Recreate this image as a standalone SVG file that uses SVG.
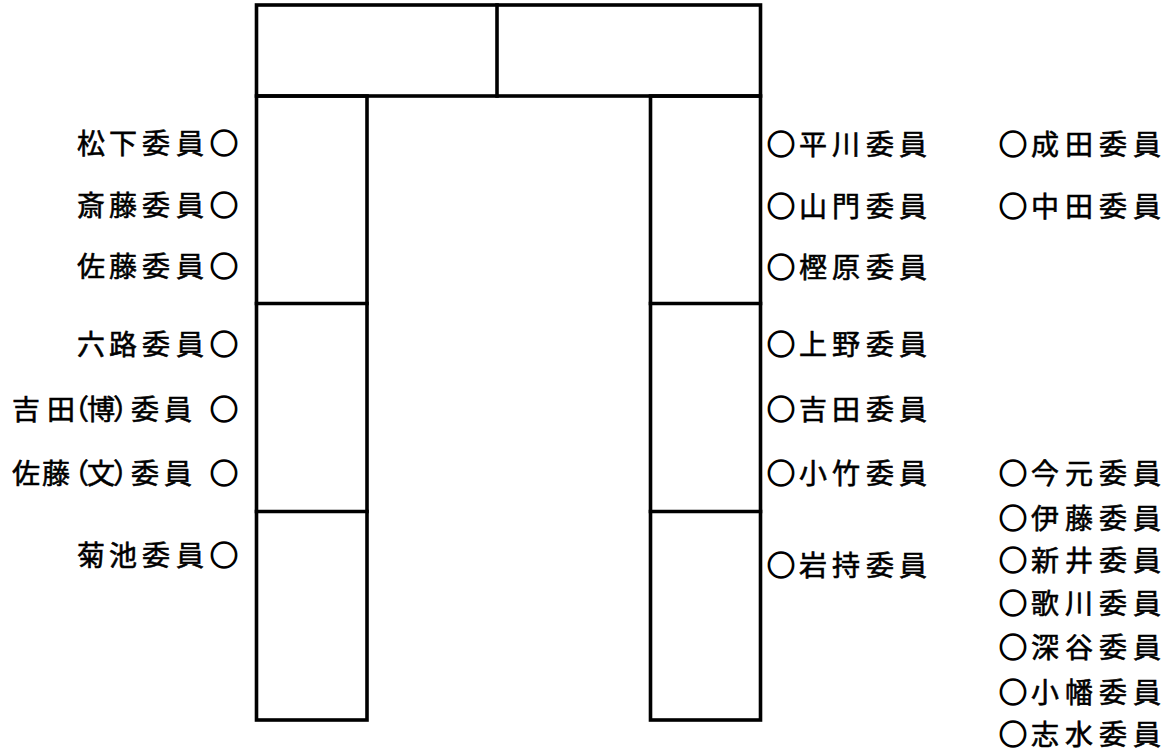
<svg xmlns="http://www.w3.org/2000/svg" width="1166" height="751" viewBox="0 0 1166 751">
<style>
.ln{fill:none;stroke:#000;stroke-width:3.6;stroke-linecap:square}
.t{font-family:"Noto Sans CJK JP","Noto Sans CJK SC",sans-serif;font-size:28px;fill:#000;stroke:#000;stroke-width:0.6}
.c{stroke-width:1.5}
</style>
<rect width="1166" height="751" fill="#fff"/>
<g id="layout">
<rect class="ln" x="256.5" y="5" width="504" height="91"/>
<line class="ln" x1="497" y1="5" x2="497" y2="96"/>
<rect class="ln" x="256.5" y="96" width="110.5" height="624"/>
<line class="ln" x1="256.5" y1="303.5" x2="367" y2="303.5"/>
<line class="ln" x1="256.5" y1="511.5" x2="367" y2="511.5"/>
<rect class="ln" x="650.5" y="96" width="110" height="624"/>
<line class="ln" x1="650.5" y1="303.5" x2="760.5" y2="303.5"/>
<line class="ln" x1="650.5" y1="511.5" x2="760.5" y2="511.5"/>
</g>
<g id="left-labels">
<g id="matsushita"><text class="t" x="77 109 142 176" y="154">松下委員<tspan class="c" x="210">○</tspan></text></g>
<g id="saito"><text class="t" x="77 109 142 176" y="216">斎藤委員<tspan class="c" x="210">○</tspan></text></g>
<g id="sato"><text class="t" x="77 109 142 176" y="277">佐藤委員<tspan class="c" x="210">○</tspan></text></g>
<g id="rokuro"><text class="t" x="77 109 142 176" y="355">六路委員<tspan class="c" x="210">○</tspan></text></g>
<g id="yoshida-hiroshi"><text class="t" x="12 47 61 87 113 131 164" y="420">吉田（博）委員<tspan class="c" x="210">○</tspan></text></g>
<g id="sato-fumi"><text class="t" x="12 42 61 87 113 131 164" y="484">佐藤（文）委員<tspan class="c" x="210">○</tspan></text></g>
<g id="kikuchi"><text class="t" x="77 109 142 176" y="566">菊池委員<tspan class="c" x="210">○</tspan></text></g>
</g>
<g id="right-labels-1">
<g id="hirakawa"><text class="t" x="767" y="155"><tspan class="c">○</tspan><tspan x="799 832 866 899">平川委員</tspan></text></g>
<g id="yamakado"><text class="t" x="767" y="217"><tspan class="c">○</tspan><tspan x="799 832 866 899">山門委員</tspan></text></g>
<g id="kashihara"><text class="t" x="767" y="278"><tspan class="c">○</tspan><tspan x="799 832 866 899">樫原委員</tspan></text></g>
<g id="ueno"><text class="t" x="767" y="355"><tspan class="c">○</tspan><tspan x="799 832 866 899">上野委員</tspan></text></g>
<g id="yoshida"><text class="t" x="767" y="420"><tspan class="c">○</tspan><tspan x="799 832 866 899">吉田委員</tspan></text></g>
<g id="kotake"><text class="t" x="767" y="484"><tspan class="c">○</tspan><tspan x="799 832 866 899">小竹委員</tspan></text></g>
<g id="iwamochi"><text class="t" x="767" y="576"><tspan class="c">○</tspan><tspan x="799 832 866 899">岩持委員</tspan></text></g>
</g>
<g id="right-labels-2">
<g id="narita"><text class="t" x="999" y="155"><tspan class="c">○</tspan><tspan x="1031 1065 1099 1133">成田委員</tspan></text></g>
<g id="nakata"><text class="t" x="999" y="217"><tspan class="c">○</tspan><tspan x="1031 1065 1099 1133">中田委員</tspan></text></g>
<g id="imamoto"><text class="t" x="999" y="484"><tspan class="c">○</tspan><tspan x="1031 1065 1099 1133">今元委員</tspan></text></g>
<g id="ito"><text class="t" x="999" y="529"><tspan class="c">○</tspan><tspan x="1031 1065 1099 1133">伊藤委員</tspan></text></g>
<g id="arai"><text class="t" x="999" y="571"><tspan class="c">○</tspan><tspan x="1031 1065 1099 1133">新井委員</tspan></text></g>
<g id="utagawa"><text class="t" x="999" y="614"><tspan class="c">○</tspan><tspan x="1031 1065 1099 1133">歌川委員</tspan></text></g>
<g id="fukaya"><text class="t" x="999" y="658"><tspan class="c">○</tspan><tspan x="1031 1065 1099 1133">深谷委員</tspan></text></g>
<g id="obata"><text class="t" x="999" y="703"><tspan class="c">○</tspan><tspan x="1031 1065 1099 1133">小幡委員</tspan></text></g>
<g id="shimizu"><text class="t" x="999" y="745"><tspan class="c">○</tspan><tspan x="1031 1065 1099 1133">志水委員</tspan></text></g>
</g>
</svg>
